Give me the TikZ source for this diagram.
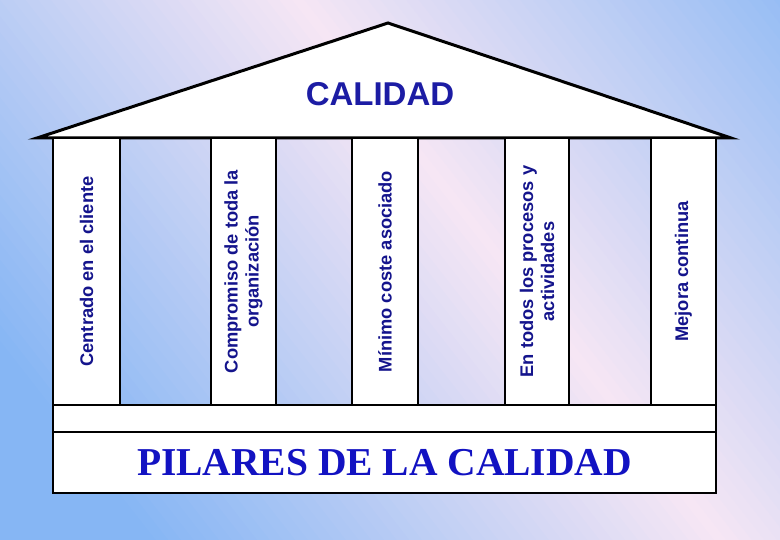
\documentclass[tikz,border=0pt]{standalone}
\usepackage{fontspec}
\setmainfont{Liberation Serif}
\setsansfont{Liberation Sans}
\usepackage{tikz}

\definecolor{bgblue}{HTML}{86B6F4}
\definecolor{bgpink}{HTML}{F6E6F4}
\definecolor{pillartext}{HTML}{14148C}
\definecolor{roofblue}{HTML}{1C1CA4}
\definecolor{baseblue}{HTML}{1212C2}

\begin{document}
\begin{tikzpicture}[x=1pt, y=-1pt,
    pillar/.style={draw=black, fill=white, line width=2pt, rotate=90, inner sep=0pt,
        align=center, text=pillartext,
        font=\sffamily\bfseries\fontsize{18.3}{21}\selectfont},
    slab/.style={draw=black, fill=white, line width=2pt, inner sep=0pt}]

    % Frame and heights
    \def\W{780}
    \def\H{540}
    \def\xl{53}      % left edge of the pillars
    \def\xr{716}     % right edge of the pillars
    \def\ytop{138}   % roof base
    \def\ybot{405}   % pillar feet
    \def\yband{432}  % top of the base
    \def\ybase{493}  % bottom of the base

    \useasboundingbox (0,0) rectangle (\W,\H);

    % Background, pink band from top middle to bottom right
    \begin{scope}
        \clip (0,0) rectangle (\W,\H);
        \foreach \t in {-70,...,70}{
            \pgfmathsetmacro\p{min(100,abs(\t)*10/4.5)}
            \fill[bgblue!\p!bgpink, rotate around={38:(510,270)}]
                ({510+\t*10-5.5},-400) rectangle ++(11,1340);
        }
    \end{scope}

    % Roof
    \coordinate (eaveL) at (37,\ytop);
    \coordinate (eaveR) at (731,\ytop);
    \coordinate (apex) at (388,23);
    \filldraw[fill=white, line width=3pt] (eaveL) -- (apex) -- (eaveR) -- cycle;
    \node[text=roofblue, font=\sffamily\bfseries\fontsize{33}{33}\selectfont] (calidad) at (380,94) {CALIDAD};

    % Pillars
    \foreach \a/\b/\txt [count=\i] in {
        53/120/{Centrado en el cliente},
        211/276/{Compromiso de toda la\\organización},
        352/418/{Mínimo coste asociado},
        505/569/{En todos los procesos y\\actividades},
        651/716/{Mejora continua}}{
        \node[pillar, minimum width=\ybot-\ytop, minimum height=\b-\a]
            (p\i) at ({(\a+\b)/2}, {(\ytop+\ybot)/2}) {\txt};
    }

    % Base
    \node[slab, minimum width=\xr-\xl, minimum height=\yband-\ybot]
        (band) at ({(\xl+\xr)/2}, {(\ybot+\yband)/2}) {};
    \node[slab, minimum width=\xr-\xl, minimum height=\ybase-\yband,
        text=baseblue, font=\rmfamily\bfseries\fontsize{39.5}{39.5}\selectfont]
        (base) at ({(\xl+\xr)/2}, {(\yband+\ybase)/2}) {PILARES DE LA CALIDAD};

\end{tikzpicture}
\end{document}
